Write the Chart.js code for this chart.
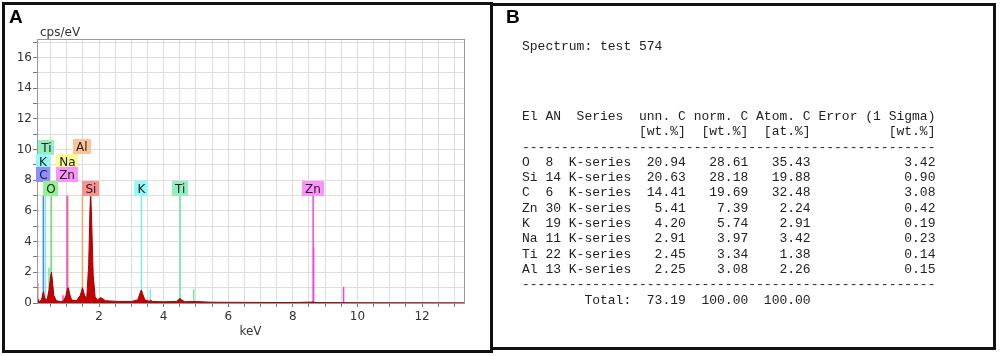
<!DOCTYPE html>
<html>
<head>
<meta charset="utf-8">
<script src="https://cdn.jsdelivr.net/npm/chart.js@4.4.1/dist/chart.umd.min.js"></script>
<style>
    html, body { margin: 0; padding: 0; background: #fff; }
    body { width: 1000px; height: 356px; position: relative; overflow: hidden; }
    #spectrumChart { position: absolute; left: 0; top: 0; }
    .panel { position: absolute; box-sizing: border-box; border: 3px solid #111; }
    #panelA { left: 2px; top: 2px; width: 491px; height: 351px; }
    #panelB { left: 490px; top: 3px; width: 506px; height: 347px; }
    .letter { position: absolute; font: bold 19px "Liberation Sans", Arial, sans-serif; color: #000; }
    pre { position: absolute; margin: 0; font: 13px/15.3px "Liberation Mono", monospace; color: #222; }
</style>
</head>
<body>
<canvas id="spectrumChart" width="492" height="356"></canvas>
<div class="panel" id="panelA"></div>
<div class="panel" id="panelB"></div>
<div class="letter" style="left:9px;top:6px">A</div>
<div class="letter" style="left:506px;top:6px">B</div>
<pre id="specTitle" style="left:522px;top:39px"></pre>
<pre id="resultTable" style="left:522px;top:109px"></pre>

<script>
    // EDS spectrum (panel A)
    const spectrumKeV = [0.08, 0.10, 0.15, 0.22, 0.26, 0.28, 0.30, 0.34, 0.40, 0.45, 0.50, 0.525, 0.55, 0.60, 0.68,
        0.80, 0.90, 0.98, 1.02, 1.05, 1.09, 1.15, 1.30, 1.42, 1.49, 1.55, 1.62, 1.68, 1.72, 1.74, 1.77, 1.82,
        1.88, 1.95, 2.05, 2.10, 2.20, 2.60, 3.00, 3.20, 3.28, 3.31, 3.35, 3.42, 3.55, 3.60, 3.65, 4.00, 4.40,
        4.48, 4.51, 4.56, 4.65, 4.93, 5.50, 6.50, 8.00, 8.60, 8.64, 8.68, 10.0, 13.3];
    const spectrumCps = [1.3, 0.3, 0.1, 0.2, 0.6, 0.75, 0.5, 0.2, 0.3, 0.8, 1.7, 2.0, 1.6, 0.5, 0.15,
        0.1, 0.12, 0.5, 0.9, 1.0, 0.6, 0.2, 0.15, 0.5, 1.0, 0.5, 0.3, 2.5, 6.0, 6.9, 5.5, 1.8,
        0.4, 0.2, 0.35, 0.3, 0.15, 0.1, 0.1, 0.2, 0.7, 0.85, 0.6, 0.2, 0.12, 0.18, 0.1, 0.08, 0.1,
        0.25, 0.3, 0.2, 0.08, 0.1, 0.05, 0.04, 0.03, 0.06, 0.08, 0.03, 0.02, 0.01];

    // element marker lines
    const markerEl = ['C', 'K', 'Ti', 'O', 'Zn', 'Zn', 'Na', 'Al', 'Si', 'K', 'K', 'Ti', 'Ti', 'Zn', 'Zn', 'Zn'];
    const markerKeV = [0.277, 0.341, 0.452, 0.525, 0.884, 1.012, 1.041, 1.487, 1.740, 3.313, 3.589, 4.510, 4.931, 8.630, 8.645, 9.572];
    const markerTop = [7.0, 7.0, 2.3, 7.0, 0.5, 7.0, 7.0, 7.0, 7.0, 7.0, 0.9, 7.0, 0.9, 7.0, 3.6, 1.05];

    // element tags: centre (keV) and lower edge (cps/eV)
    const tagEl = ['Ti', 'K', 'C', 'Al', 'Na', 'Zn', 'O', 'Si', 'K', 'Ti', 'Zn'];
    const tagKeV = [0.37, 0.26, 0.28, 1.47, 1.02, 1.01, 0.51, 1.75, 3.31, 4.51, 8.62];
    const tagCps = [9.64, 8.75, 7.88, 9.7, 8.75, 7.88, 7.0, 7.0, 7.0, 7.0, 7.0];

    const xTickLabels = [2, 4, 6, 8, 10, 12];
    const yTickLabels = [0, 2, 4, 6, 8, 10, 12, 14, 16];

    // quantification table (panel B)
    const spectrumName = 'test 574';
    const tableEl = ['O', 'Si', 'C', 'Zn', 'K', 'Na', 'Ti', 'Al'];
    const tableAN = [8, 14, 6, 30, 19, 11, 22, 13];
    const unnC = ['20.94', '20.63', '14.41', '5.41', '4.20', '2.91', '2.45', '2.25'];
    const normC = ['28.61', '28.18', '19.69', '7.39', '5.74', '3.97', '3.34', '3.08'];
    const atomC = ['35.43', '19.88', '32.48', '2.24', '2.91', '3.42', '1.38', '2.26'];
    const errSigma = ['3.42', '0.90', '3.08', '0.42', '0.19', '0.23', '0.14', '0.15'];
    const totals = ['73.19', '100.00', '100.00'];

    const lineColor = { C: '#4a86ff', K: '#7eeaf2', Ti: '#6ee6a6', O: '#72e072', Zn: '#ee44ee', Na: '#e8d44a', Al: '#f2a468', Si: '#d82020' };
    const tagColor = { C: '#8e8eff', K: '#93fbfb', Ti: '#93efbf', O: '#93f193', Zn: '#fa93fa', Na: '#fbfb93', Al: '#ffc197', Si: '#ff9090' };

    // table text
    document.getElementById('specTitle').textContent = 'Spectrum: ' + spectrumName;
    const rule = '-'.repeat(53);
    const rows = [
        'El AN  Series  unn. C norm. C Atom. C Error (1 Sigma)',
        ' '.repeat(15) + '[wt.%]  [wt.%]  [at.%]' + ' '.repeat(10) + '[wt.%]',
        rule
    ];
    tableEl.forEach((el, i) => {
        rows.push(el.padEnd(3) + String(tableAN[i]).padEnd(3) + 'K-series' +
            unnC[i].padStart(7) + normC[i].padStart(8) + atomC[i].padStart(8) + errSigma[i].padStart(16));
    });
    rows.push(rule);
    rows.push('        Total:' + totals[0].padStart(7) + totals[1].padStart(8) + totals[2].padStart(8));
    document.getElementById('resultTable').textContent = rows.join('\n');

    // chart
    const tickFont = { family: '"DejaVu Sans", Verdana, sans-serif', size: 12 };

    const datasets = [{
        data: spectrumKeV.map((e, i) => ({ x: e, y: spectrumCps[i] })),
        borderColor: '#a80000',
        backgroundColor: '#c40000',
        borderWidth: 1,
        fill: 'origin',
        pointRadius: 0,
        tension: 0,
        order: 0
    }];
    markerEl.forEach((el, i) => {
        datasets.push({
            data: [{ x: markerKeV[i], y: 0 }, { x: markerKeV[i], y: markerTop[i] }],
            borderColor: lineColor[el],
            borderWidth: 1.5,
            pointRadius: 0,
            fill: false,
            order: 1
        });
    });

    const tagPlugin = {
        id: 'elementTags',
        afterDatasetsDraw(chart) {
            const { ctx, chartArea, scales: { x, y } } = chart;
            ctx.save();
            ctx.strokeStyle = '#999';
            ctx.lineWidth = 1;
            ctx.strokeRect(chartArea.left + 0.5, chartArea.top + 0.5, chartArea.right - chartArea.left, chartArea.bottom - chartArea.top);
            ctx.font = '12px "DejaVu Sans", Verdana, sans-serif';
            ctx.textAlign = 'center';
            ctx.textBaseline = 'middle';
            tagEl.forEach((el, i) => {
                const cx = x.getPixelForValue(tagKeV[i]);
                const by = Math.round(y.getPixelForValue(tagCps[i]));
                const w = Math.round(ctx.measureText(el).width + 6);
                const h = 15;
                ctx.fillStyle = tagColor[el];
                ctx.fillRect(Math.round(cx - w / 2), by - h, w, h);
                ctx.fillStyle = '#222';
                ctx.fillText(el, cx, by - h / 2 + 1);
            });
            ctx.textAlign = 'left';
            ctx.fillStyle = '#333';
            ctx.fillText('cps/eV', chartArea.left + 3, chartArea.top - 6);
            ctx.restore();
        }
    };

    new Chart(document.getElementById('spectrumChart'), {
        type: 'line',
        data: { datasets },
        options: {
            responsive: false,
            animation: false,
            layout: { padding: { top: 39, right: 28, left: 0, bottom: 0 } },
            plugins: { legend: { display: false }, tooltip: { enabled: false } },
            scales: {
                x: {
                    type: 'linear',
                    min: 0.08,
                    max: 13.3,
                    afterBuildTicks: (scale) => {
                        const t = [];
                        for (let v = 0.5; v <= 13; v += 0.5) t.push({ value: v });
                        scale.ticks = t;
                    },
                    afterFit: (scale) => { scale.height = 53; },
                    ticks: {
                        autoSkip: false, maxRotation: 0, padding: 3, color: '#333', font: tickFont,
                        callback: (v) => xTickLabels.includes(v) ? String(v) : ''
                    },
                    grid: { color: '#dedede', tickColor: '#777', tickLength: 4 },
                    border: { color: '#666' },
                    title: { display: true, text: 'keV', color: '#333', font: tickFont, padding: { top: 0, bottom: 17 } }
                },
                y: {
                    min: 0,
                    max: 17.2,
                    afterBuildTicks: (scale) => {
                        const t = [];
                        for (let v = 0; v <= 17; v++) t.push({ value: v });
                        scale.ticks = t;
                    },
                    afterFit: (scale) => { scale.width = 37; },
                    ticks: {
                        autoSkip: false, padding: 1, color: '#333', font: tickFont,
                        callback: (v) => yTickLabels.includes(v) ? String(v) : ''
                    },
                    grid: { color: '#dedede', tickColor: '#777', tickLength: 4 },
                    border: { color: '#666' }
                }
            }
        },
        plugins: [tagPlugin]
    });
</script>
</body>
</html>
